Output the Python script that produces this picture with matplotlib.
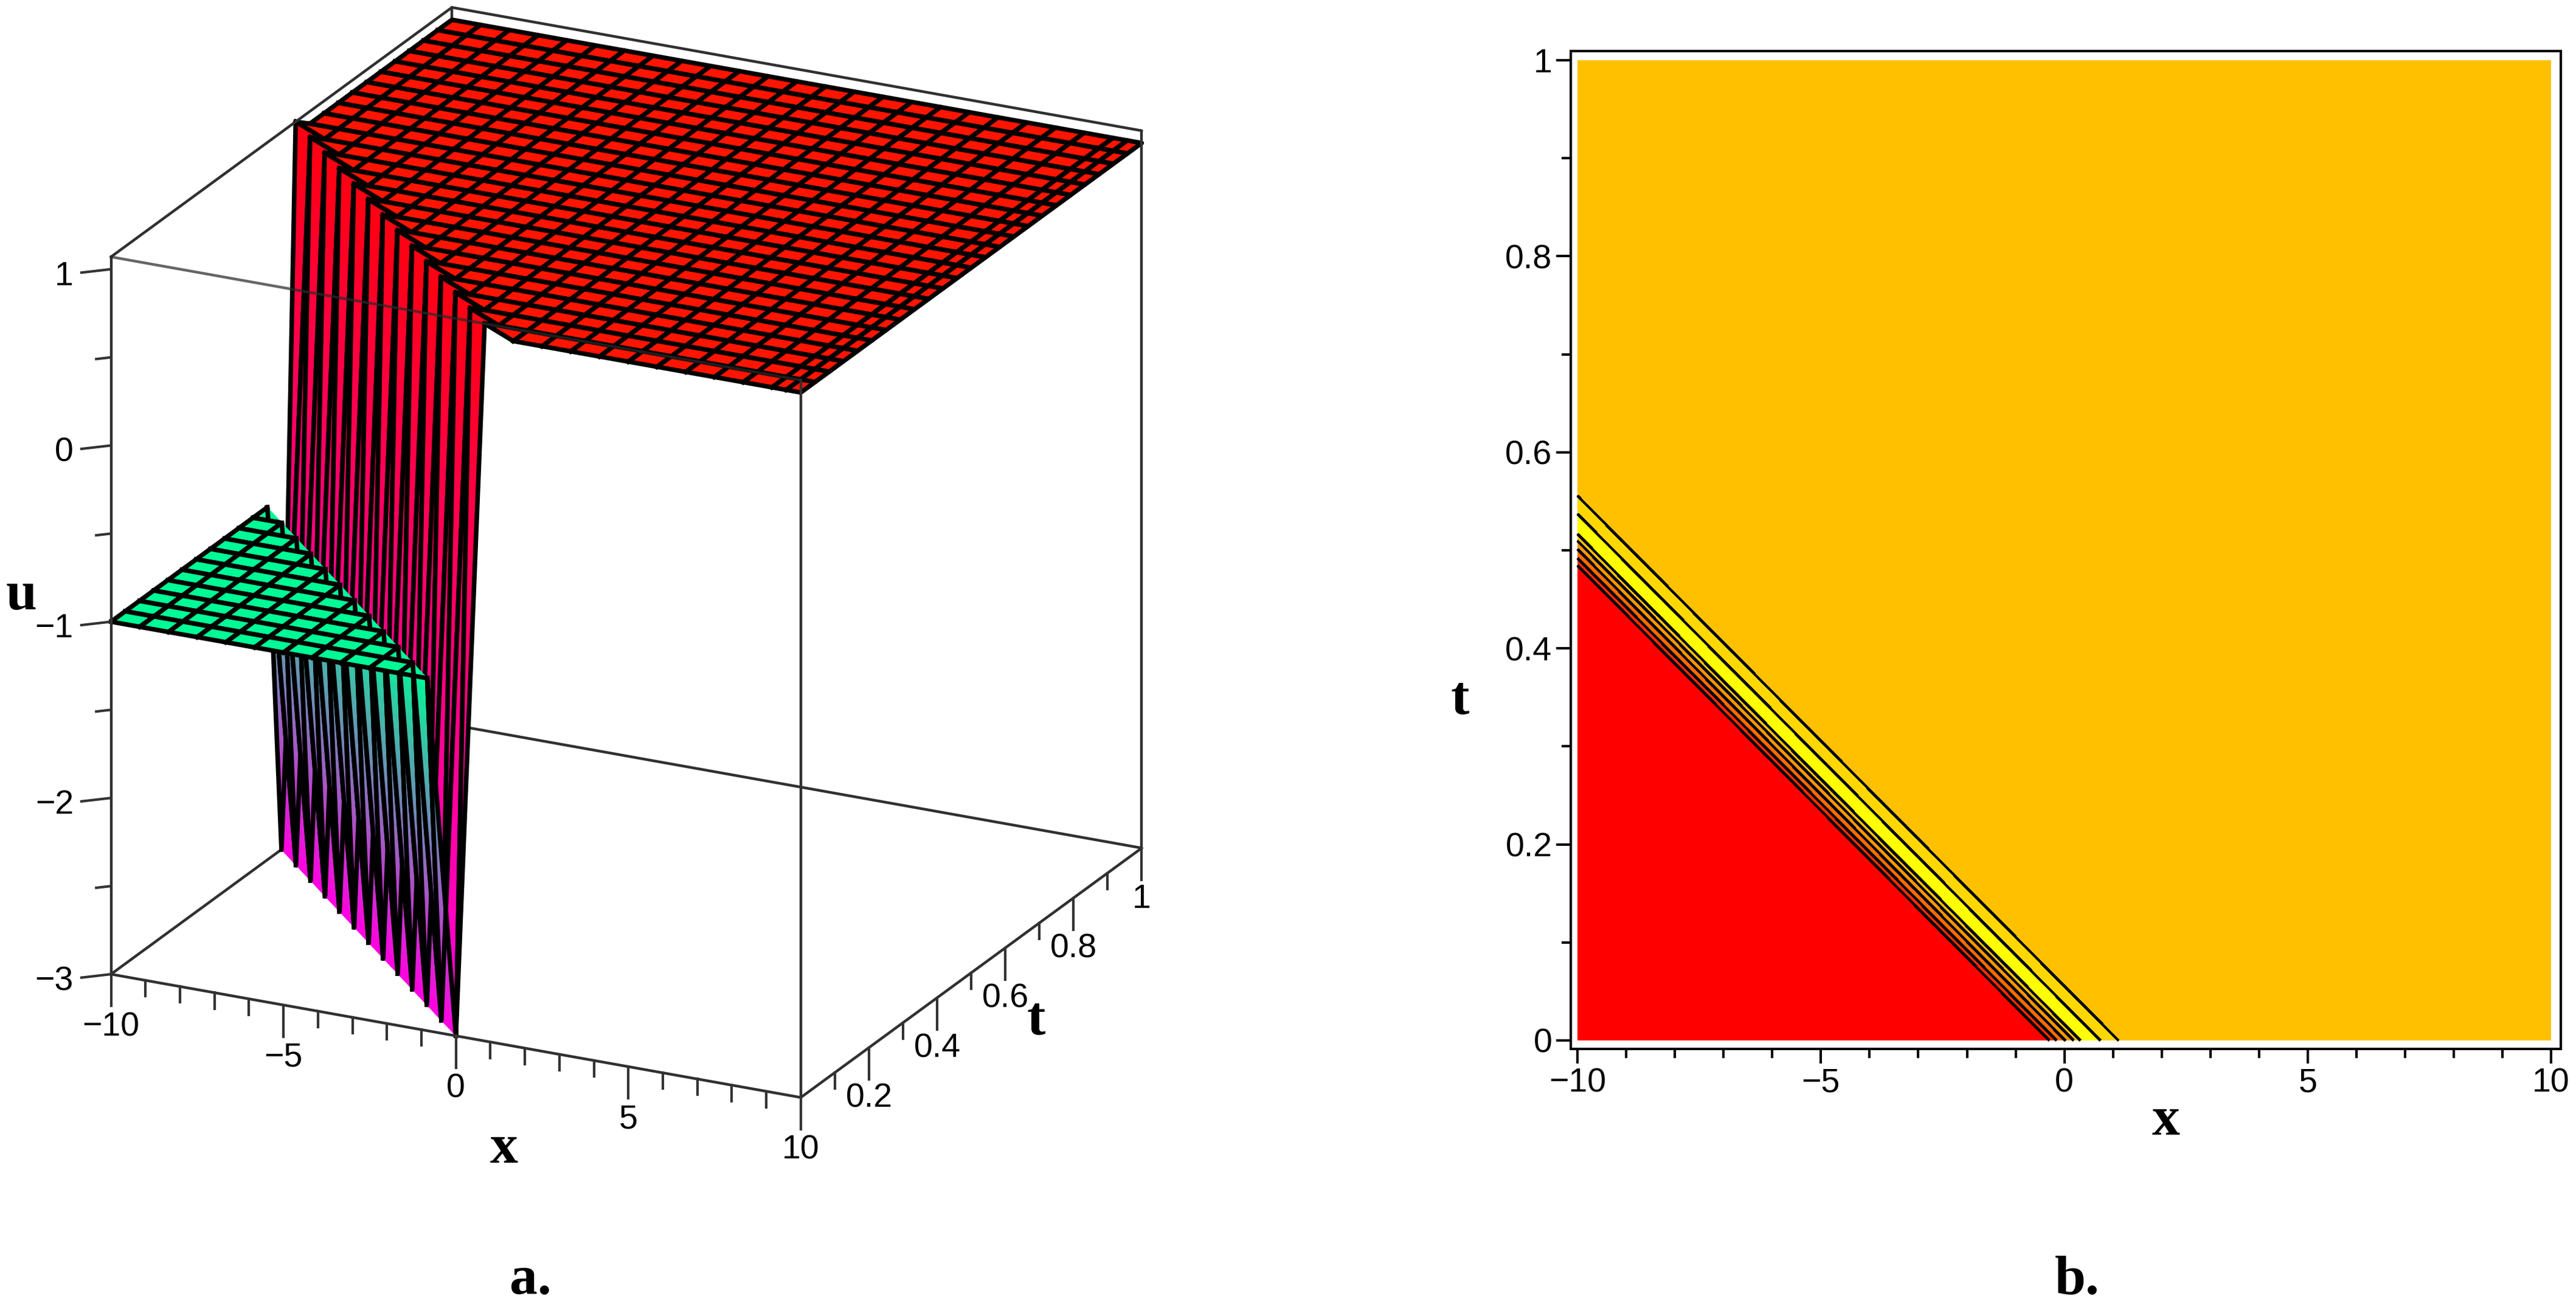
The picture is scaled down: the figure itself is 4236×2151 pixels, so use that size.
import numpy as np
import matplotlib
matplotlib.use('Agg')
import matplotlib.pyplot as plt
from matplotlib.ticker import MultipleLocator
from mpl_toolkits.mplot3d import proj3d
from mpl_toolkits.mplot3d.art3d import Poly3DCollection

# surface grid: x and t values, last x step is halved in the original
x_grid = [-10, -9.167, -8.333, -7.5, -6.667, -5.833, -5, -4.167, -3.333, -2.5, -1.667, -0.833, 0,
          0.833, 1.667, 2.5, 3.333, 4.167, 5, 5.833, 6.667, 7.5, 8.333, 9.167, 9.58, 10]
t_grid = [0, 0.0417, 0.0833, 0.125, 0.1667, 0.2083, 0.25, 0.2917, 0.3333, 0.375, 0.4167, 0.4583, 0.5,
          0.5417, 0.5833, 0.625, 0.6667, 0.7083, 0.75, 0.7917, 0.8333, 0.875, 0.9167, 0.9583, 1]
# height, by grid diagonal (column + row), clipped to the view box
u_diag = [-1, -1, -1, -1, -1, -1, -1, -1, -1, -1, -1, -1, -3, 1.07, 1, 1,
          1, 1, 1, 1, 1, 1, 1, 1, 1, 1, 1, 1, 1, 1, 1, 1, 1, 1, 1, 1, 1, 1, 1, 1, 1, 1, 1, 1, 1, 1, 1, 1, 1]

# vertex colours against height
hue_u = [-3, -1, 1, 1.07]
hue_r = [1.0, 0.0, 1.0, 1.0]
hue_g = [0.0, 0.98, 0.08, 0.0]
hue_b = [0.88, 0.59, 0.0, 0.06]

x_major = [-10, -5, 0, 5, 10]
x_minor = [-9, -8, -7, -6, -4, -3, -2, -1, 1, 2, 3, 4, 6, 7, 8, 9]
t_major = [0.2, 0.4, 0.6, 0.8, 1]
t_minor = [0.1, 0.3, 0.5, 0.7, 0.9]
u_major = [-3, -2, -1, 0, 1]
u_minor = [-2.5, -1.5, -0.5, 0.5]
u_bottom, u_top = -3, 1.07

# contour panel: each line runs from (-10, t_left) to (x_bottom, 0)
contour_t_left = [0.4845, 0.492, 0.501, 0.5095, 0.5165, 0.537, 0.5555]
contour_x_bottom = [-0.31, -0.16, 0.02, 0.19, 0.33, 0.74, 1.11]
band_colors = ['#ff0000', '#ff2c00', '#ff6a00', '#ff9400', '#ffc000', '#ffff00', '#ffd700']
top_color = '#ffc000'

W, H = 4236, 2151
tick_font = 'Liberation Sans'
tick_size = 40
label_font = dict(family='Liberation Serif', weight='bold', size=66)
box_kw = dict(color='#303030', lw=3.2, solid_capstyle='round')

fig = plt.figure(figsize=(W / 100, H / 100), dpi=100)

# 3D panel, the original is an orthographic view of a cube
side = 2127.5
ax = fig.add_axes([-62.5 / W, 150 / H, side / W, side / H], projection='3d',
                  proj_type='ortho', computed_zorder=False)
ax.view_init(elev=21.2, azim=-63.7)
ax.set_box_aspect((1, 1, 1))
ax.set_xlim(-10, 10, view_margin=0)
ax.set_ylim(0, 1, view_margin=0)
ax.set_zlim(u_bottom, u_top, view_margin=0)
ax.set_xticks([])
ax.set_yticks([])
ax.set_zticks([])
ax.set_axis_off()


def vertex_color(u):
    return np.array([np.interp(u, hue_u, hue_r), np.interp(u, hue_u, hue_g), np.interp(u, hue_u, hue_b)])


def draw_tri(a, b, c, z, n=24):
    # a has one colour, b and c share the other, so the blend goes in strips away from a
    ca, cb = vertex_color(a[2]), vertex_color(b[2])
    a, b, c = np.array(a), np.array(b), np.array(c)
    if np.allclose(ca, cb):
        polys, cols = [[a, b, c]], [ca]
    else:
        polys, cols = [], []
        for s in range(n):
            f0, f1 = s / n, (s + 1) / n
            polys.append([a + f0 * (b - a), a + f1 * (b - a), a + f1 * (c - a), a + f0 * (c - a)])
            cols.append(ca + (f0 + f1) / 2 * (cb - ca))
    p = Poly3DCollection(polys, facecolors=cols, edgecolors=cols, linewidths=0.6)
    p.set_zorder(z)
    ax.add_collection3d(p, autolim=False)


def tick_label(x, t, u, s, ha, z):
    # plain 2D text at the projected spot
    px, py, _ = proj3d.proj_transform(x, t, u, ax.get_proj())
    ax.text2D(px, py, s, transform=ax.transData, ha=ha, va='center', family=tick_font,
              size=tick_size, zorder=z, clip_on=False)


# hidden box edges go behind the surface
ax.plot([-10, 10], [1, 1], [u_bottom, u_bottom], zorder=1, **box_kw)
ax.plot([-10, -10], [0, 1], [u_bottom, u_bottom], zorder=1, **box_kw)
ax.plot([-10, -10], [1, 1], [u_bottom, u_top], zorder=1, **box_kw)

# far to near, columns low x to high x, that is the right order for a height field
z = 10
nx, nt = len(x_grid), len(t_grid)
U = [[u_diag[min(i, 24) + j] for j in range(nt)] for i in range(nx)]
for j in range(nt - 2, -1, -1):
    for i in range(nx - 1):
        p00 = (x_grid[i], t_grid[j], U[i][j])
        p10 = (x_grid[i + 1], t_grid[j], U[i + 1][j])
        p11 = (x_grid[i + 1], t_grid[j + 1], U[i + 1][j + 1])
        p01 = (x_grid[i], t_grid[j + 1], U[i][j + 1])
        draw_tri(p11, p10, p01, z)
        draw_tri(p00, p10, p01, z + 1)
        outline = [p00, p10, p11, p01, p00]
        ax.plot(*zip(*outline), color='black', lw=5.4, solid_joinstyle='round', zorder=z + 2)
        z += 3

# box edges in front
front = z + 10
ax.plot([-10, 10], [0, 0], [u_bottom, u_bottom], zorder=front, **box_kw)
ax.plot([10, 10], [0, 1], [u_bottom, u_bottom], zorder=front, **box_kw)
ax.plot([-10, -10], [0, 0], [u_bottom, u_top], zorder=front, **box_kw)
ax.plot([10, 10], [0, 0], [u_bottom, u_top], zorder=front, **box_kw)
ax.plot([10, 10], [1, 1], [u_bottom, u_top], zorder=front, **box_kw)
ax.plot([-10, 10], [1, 1], [u_top, u_top], zorder=front, **box_kw)
ax.plot([-10, -10], [0, 1], [u_top, u_top], zorder=front, **box_kw)
ax.plot([-10, 10], [0, 0], [u_top, u_top], zorder=front, color='#2a2a2a', lw=3.2, alpha=0.72)

# ticks hang straight down from the x and t edges
tick_kw = dict(color='#333333', lw=3.0, zorder=front)
for v in x_major:
    ax.plot([v, v], [0, 0], [u_bottom, u_bottom - 0.18], **tick_kw)
    tick_label(v, 0, u_bottom - 0.30, str(v).replace('-', '\u2212'), 'center', front)
for v in x_minor:
    ax.plot([v, v], [0, 0], [u_bottom, u_bottom - 0.09], **tick_kw)
for v in t_major:
    ax.plot([10, 10], [v, v], [u_bottom, u_bottom - 0.18], **tick_kw)
    tick_label(10, v, u_bottom - 0.29, str(v), 'center', front)
for v in t_minor:
    ax.plot([10, 10], [v, v], [u_bottom, u_bottom - 0.09], **tick_kw)
for v in u_major:
    ax.plot([-10, -10.58], [0, -0.028], [v, v], **tick_kw)
    tick_label(-10.81, -0.028, v - 0.03, str(v).replace('-', '\u2212'), 'right', front)
for v in u_minor:
    ax.plot([-10, -10.29], [0, -0.014], [v, v], **tick_kw)

fig.text(307 * 2.7 / W, 1 - 700 * 2.7 / H, 'x', ha='center', va='center', **label_font)
fig.text(631 * 2.7 / W, 1 - 622 * 2.7 / H, 't', ha='center', va='center', **label_font)
fig.text(13 * 2.7 / W, 1 - 363 * 2.7 / H, 'u', ha='center', va='center', **label_font)
fig.text(323 * 2.7 / W, 1 - 780 * 2.7 / H, 'a.', ha='center', va='center', **label_font)
fig.text(1265 * 2.7 / W, 1 - 780 * 2.7 / H, 'b.', ha='center', va='center', **label_font)

# contour panel
ax2 = fig.add_axes([2583 / W, (H - 1725) / H, 1628 / W, 1641 / H])
ax2.set_xlim(-10.14, 10.2)
ax2.set_ylim(-0.0087, 1.0093)
ax2.fill([-10, 10, 10, -10], [0, 0, 1, 1], color=top_color, lw=0)
for i in range(len(band_colors) - 1, -1, -1):
    ax2.fill([-10, -10, contour_x_bottom[i]], [0, contour_t_left[i], 0], color=band_colors[i], lw=0)
for tl, xb in zip(contour_t_left, contour_x_bottom):
    ax2.plot([-10, xb], [tl, 0], color='black', lw=2.4, solid_capstyle='butt', antialiased=False)

ax2.xaxis.set_minor_locator(MultipleLocator(1))
ax2.yaxis.set_minor_locator(MultipleLocator(0.1))
ax2.set_xticks(x_major)
ax2.set_xticklabels([str(v).replace('-', '\u2212') for v in x_major], family=tick_font, size=tick_size)
ax2.set_yticks([0] + t_major)
ax2.set_yticklabels(['0'] + [str(v) for v in t_major], family=tick_font, size=tick_size)
ax2.tick_params(which='major', length=17, width=2.9, pad=5)
ax2.tick_params(which='minor', length=11, width=2.9)
for s in ax2.spines.values():
    s.set_linewidth(2.9)
ax2.set_xlabel('x', **label_font)
ax2.set_ylabel('t', rotation=0, **label_font)
ax2.xaxis.set_label_coords(0.601, -0.0725)
ax2.yaxis.set_label_coords(-0.112, 0.349)
ax2.xaxis.label.set_va('center')
ax2.yaxis.label.set_va('center')

fig.savefig('out.png', dpi=100)
